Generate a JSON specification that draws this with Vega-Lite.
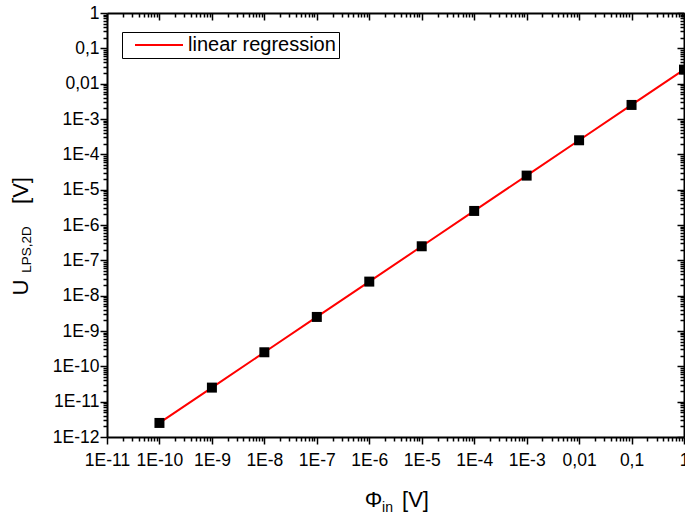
{
  "$schema": "https://vega.github.io/schema/vega-lite/v6.json",
  "autosize": {"type": "none"},
  "width": 577,
  "height": 424,
  "padding": {"left": 107, "top": 13, "right": 1, "bottom": 81},
  "background": "white",
  "config": {
    "view": {"stroke": null},
    "font": "Liberation Sans",
    "axis": {
      "grid": false,
      "labelFont": "Liberation Sans",
      "titleFont": "Liberation Sans",
      "labelColor": "black",
      "titleColor": "black",
      "domainColor": "black",
      "tickColor": "black",
      "titleFontWeight": "normal",
      "labelFlush": false,
      "labelOverlap": false,
      "labelBound": false,
      "tickWidth": 1.5,
      "domainWidth": 2,
      "titleAlign": "center",
      "titleBaseline": "middle"
    },
    "legend": {
      "orient": "none",
      "legendX": 15,
      "legendY": 19,
      "padding": 3,
      "strokeColor": "black",
      "fillColor": "white",
      "symbolType": "M-4,0H4",
      "symbolSize": 144,
      "symbolOffset": 24,
      "symbolStrokeWidth": 2,
      "symbolStrokeColor": "#ff0000",
      "symbolFillColor": "transparent",
      "labelOffset": 19,
      "labelFontSize": 20,
      "labelFont": "Liberation Sans",
      "labelColor": "black",
      "title": null
    }
  },
  "data": {
    "values": [
      {"x": 1e-10, "y": 2.5e-12},
      {"x": 1e-9, "y": 2.5e-11},
      {"x": 1e-8, "y": 2.5e-10},
      {"x": 1e-7, "y": 2.5e-9},
      {"x": 1e-6, "y": 2.5e-8},
      {"x": 1e-5, "y": 2.5e-7},
      {"x": 1e-4, "y": 2.5e-6},
      {"x": 0.001, "y": 2.5e-5},
      {"x": 0.01, "y": 2.5e-4},
      {"x": 0.1, "y": 0.0025},
      {"x": 1, "y": 0.025}
    ]
  },
  "resolve": {"axis": {"x": "independent", "y": "independent"}},
  "layer": [
    {
      "mark": {"type": "line", "strokeWidth": 2},
      "encoding": {
        "x": {
          "field": "x", "type": "quantitative",
          "scale": {"type": "log", "domain": [1e-11, 1], "nice": false},
          "axis": {
            "orient": "bottom",
            "values": [1e-11, 1e-10, 1e-9, 1e-8, 1e-7, 1e-6, 1e-5, 1e-4, 0.001, 0.01, 0.1, 1],
            "tickSize": 7,
            "labelFontSize": 17.5,
            "labelPadding": 7,
            "labelExpr": "datum.value >= 0.005 ? replace(toString(datum.value), '.', ',') : '1E' + round(log(datum.value) / LN10)",
            "title": "Φ",
            "titleFontSize": 22,
            "titleX": 266,
            "titleY": 62
          }
        },
        "y": {
          "field": "y", "type": "quantitative",
          "scale": {"type": "log", "domain": [1e-12, 1], "nice": false},
          "axis": {
            "orient": "left",
            "values": [1e-12, 1e-11, 1e-10, 1e-9, 1e-8, 1e-7, 1e-6, 1e-5, 1e-4, 0.001, 0.01, 0.1, 1],
            "tickSize": 7,
            "labelFontSize": 17.5,
            "labelPadding": 1,
            "labelExpr": "datum.value >= 0.005 ? replace(toString(datum.value), '.', ',') : '1E' + round(log(datum.value) / LN10)",
            "title": "U",
            "titleFontSize": 22,
            "titleAngle": 270,
            "titleX": -87,
            "titleY": 274
          }
        },
        "color": {
          "datum": "linear regression",
          "type": "nominal",
          "scale": {"range": ["#ff0000"]}
        }
      }
    },
    {
      "mark": {"type": "point", "shape": "square", "size": 100, "filled": true, "color": "black", "opacity": 1},
      "encoding": {
        "x": {
          "field": "x", "type": "quantitative",
          "axis": {
            "orient": "bottom",
            "values": [2e-11,3e-11,4e-11,5e-11,6e-11,7e-11,8e-11,9e-11,
                       2e-10,3e-10,4e-10,5e-10,6e-10,7e-10,8e-10,9e-10,
                       2e-9,3e-9,4e-9,5e-9,6e-9,7e-9,8e-9,9e-9,
                       2e-8,3e-8,4e-8,5e-8,6e-8,7e-8,8e-8,9e-8,
                       2e-7,3e-7,4e-7,5e-7,6e-7,7e-7,8e-7,9e-7,
                       2e-6,3e-6,4e-6,5e-6,6e-6,7e-6,8e-6,9e-6,
                       2e-5,3e-5,4e-5,5e-5,6e-5,7e-5,8e-5,9e-5,
                       2e-4,3e-4,4e-4,5e-4,6e-4,7e-4,8e-4,9e-4,
                       0.002,0.003,0.004,0.005,0.006,0.007,0.008,0.009,
                       0.02,0.03,0.04,0.05,0.06,0.07,0.08,0.09,
                       0.2,0.3,0.4,0.5,0.6,0.7,0.8,0.9],
            "tickSize": 4,
            "labels": false,
            "domain": false,
            "title": "in",
            "titleFontSize": 14,
            "titleX": 280,
            "titleY": 70
          }
        },
        "y": {
          "field": "y", "type": "quantitative",
          "axis": {
            "orient": "left",
            "values": [2e-12,3e-12,4e-12,5e-12,6e-12,7e-12,8e-12,9e-12,
                       2e-11,3e-11,4e-11,5e-11,6e-11,7e-11,8e-11,9e-11,
                       2e-10,3e-10,4e-10,5e-10,6e-10,7e-10,8e-10,9e-10,
                       2e-9,3e-9,4e-9,5e-9,6e-9,7e-9,8e-9,9e-9,
                       2e-8,3e-8,4e-8,5e-8,6e-8,7e-8,8e-8,9e-8,
                       2e-7,3e-7,4e-7,5e-7,6e-7,7e-7,8e-7,9e-7,
                       2e-6,3e-6,4e-6,5e-6,6e-6,7e-6,8e-6,9e-6,
                       2e-5,3e-5,4e-5,5e-5,6e-5,7e-5,8e-5,9e-5,
                       2e-4,3e-4,4e-4,5e-4,6e-4,7e-4,8e-4,9e-4,
                       0.002,0.003,0.004,0.005,0.006,0.007,0.008,0.009,
                       0.02,0.03,0.04,0.05,0.06,0.07,0.08,0.09,
                       0.2,0.3,0.4,0.5,0.6,0.7,0.8,0.9],
            "tickSize": 4,
            "labels": false,
            "domain": false,
            "title": "LPS,2D",
            "titleFontSize": 13.5,
            "titleAngle": 270,
            "titleX": -81,
            "titleY": 236
          }
        }
      }
    },
    {
      "mark": {"type": "point", "shape": "square", "size": 100, "filled": true, "color": "black", "opacity": 0},
      "encoding": {
        "x": {
          "field": "x", "type": "quantitative",
          "axis": {
            "orient": "top",
            "values": [1e-11, 1e-10, 1e-9, 1e-8, 1e-7, 1e-6, 1e-5, 1e-4, 0.001, 0.01, 0.1, 1],
            "tickSize": -7,
            "labels": false,
            "title": "[V]",
            "titleFontSize": 22,
            "titleX": 308,
            "titleY": 486
          }
        },
        "y": {
          "field": "y", "type": "quantitative",
          "axis": {
            "orient": "right",
            "values": [1e-12, 1e-11, 1e-10, 1e-9, 1e-8, 1e-7, 1e-6, 1e-5, 1e-4, 0.001, 0.01, 0.1, 1],
            "tickSize": -7,
            "labels": false,
            "title": "[V]",
            "titleFontSize": 22,
            "titleAngle": 270,
            "titleX": -664,
            "titleY": 177
          }
        }
      }
    },
    {
      "mark": {"type": "point", "shape": "square", "size": 100, "filled": true, "color": "black", "opacity": 0},
      "encoding": {
        "x": {
          "field": "x", "type": "quantitative",
          "axis": {
            "orient": "top",
            "values": [2e-11,3e-11,4e-11,5e-11,6e-11,7e-11,8e-11,9e-11,
                       2e-10,3e-10,4e-10,5e-10,6e-10,7e-10,8e-10,9e-10,
                       2e-9,3e-9,4e-9,5e-9,6e-9,7e-9,8e-9,9e-9,
                       2e-8,3e-8,4e-8,5e-8,6e-8,7e-8,8e-8,9e-8,
                       2e-7,3e-7,4e-7,5e-7,6e-7,7e-7,8e-7,9e-7,
                       2e-6,3e-6,4e-6,5e-6,6e-6,7e-6,8e-6,9e-6,
                       2e-5,3e-5,4e-5,5e-5,6e-5,7e-5,8e-5,9e-5,
                       2e-4,3e-4,4e-4,5e-4,6e-4,7e-4,8e-4,9e-4,
                       0.002,0.003,0.004,0.005,0.006,0.007,0.008,0.009,
                       0.02,0.03,0.04,0.05,0.06,0.07,0.08,0.09,
                       0.2,0.3,0.4,0.5,0.6,0.7,0.8,0.9],
            "tickSize": -4,
            "labels": false,
            "domain": false,
            "title": null
          }
        },
        "y": {
          "field": "y", "type": "quantitative",
          "axis": {
            "orient": "right",
            "values": [2e-12,3e-12,4e-12,5e-12,6e-12,7e-12,8e-12,9e-12,
                       2e-11,3e-11,4e-11,5e-11,6e-11,7e-11,8e-11,9e-11,
                       2e-10,3e-10,4e-10,5e-10,6e-10,7e-10,8e-10,9e-10,
                       2e-9,3e-9,4e-9,5e-9,6e-9,7e-9,8e-9,9e-9,
                       2e-8,3e-8,4e-8,5e-8,6e-8,7e-8,8e-8,9e-8,
                       2e-7,3e-7,4e-7,5e-7,6e-7,7e-7,8e-7,9e-7,
                       2e-6,3e-6,4e-6,5e-6,6e-6,7e-6,8e-6,9e-6,
                       2e-5,3e-5,4e-5,5e-5,6e-5,7e-5,8e-5,9e-5,
                       2e-4,3e-4,4e-4,5e-4,6e-4,7e-4,8e-4,9e-4,
                       0.002,0.003,0.004,0.005,0.006,0.007,0.008,0.009,
                       0.02,0.03,0.04,0.05,0.06,0.07,0.08,0.09,
                       0.2,0.3,0.4,0.5,0.6,0.7,0.8,0.9],
            "tickSize": -4,
            "labels": false,
            "domain": false,
            "title": null
          }
        }
      }
    }
  ]
}
